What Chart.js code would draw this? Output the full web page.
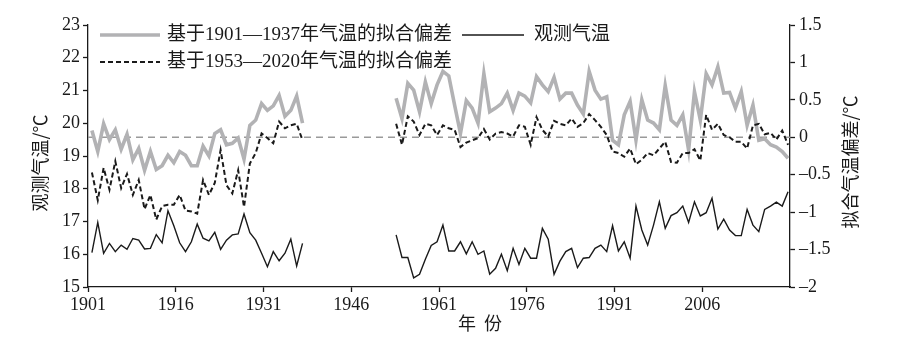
<!DOCTYPE html>
<html>
<head>
<meta charset="utf-8">
<script src="https://cdn.jsdelivr.net/npm/chart.js@4.4.1/dist/chart.umd.min.js"></script>
<style>
html, body { margin: 0; padding: 0; background: #fff; }
</style>
</head>
<body>
<canvas id="chart" width="909" height="339"></canvas>
<script>
// years covered by the two pieces of each series
var early_start = 1901, early_end = 1937;
var late_start = 1953, late_end = 2020;

var x_ticks = [1901, 1916, 1931, 1946, 1961, 1976, 1991, 2006];

var obs_label = "观测气温";
var fit_a_label = "基于1901—1937年气温的拟合偏差";
var fit_b_label = "基于1953—2020年气温的拟合偏差";

// observed temperature (left axis)
var obs_early = [16.05, 16.97, 16.03, 16.33, 16.08, 16.28, 16.15, 16.48, 16.43, 16.16,
	16.18, 16.6, 16.35, 17.33, 16.87, 16.35, 16.08, 16.38, 16.92, 16.49,
	16.41, 16.67, 16.15, 16.43, 16.59, 16.62, 17.23, 16.66, 16.43, 16.03,
	15.62, 16.08, 15.8, 16.03, 16.46, 15.64, 16.33];
var obs_late = [16.59, 15.9, 15.9, 15.28, 15.39, 15.85, 16.27, 16.38, 16.89, 16.1,
	16.1, 16.38, 16.01, 16.38, 16.0, 16.1, 15.39, 15.57, 16.0, 15.5,
	16.18, 15.69, 16.18, 15.88, 15.88, 16.79, 16.46, 15.39, 15.79, 16.08,
	16.18, 15.59, 15.88, 15.9, 16.18, 16.28, 16.08, 16.87, 16.1, 16.38,
	15.88, 17.47, 16.74, 16.28, 16.89, 17.6, 16.79, 17.18, 17.27, 17.47,
	16.97, 17.6, 17.17, 17.27, 17.71, 16.77, 17.07, 16.74, 16.57, 16.57,
	17.37, 16.89, 16.69, 17.37, 17.47, 17.59, 17.47, 17.91];

// fit deviation based on 1901-1937 (right axis, grey)
var fit_a_early = [0.09, -0.19, 0.18, -0.03, 0.10, -0.16, 0.04, -0.30, -0.15, -0.44,
	-0.19, -0.43, -0.38, -0.24, -0.34, -0.19, -0.24, -0.38, -0.38, -0.12,
	-0.25, 0.05, 0.10, -0.10, -0.08, -0.01, -0.29, 0.16, 0.23, 0.45,
	0.36, 0.42, 0.56, 0.28, 0.36, 0.55, 0.19];
var fit_a_late = [0.52, 0.25, 0.72, 0.63, 0.34, 0.74, 0.45, 0.70, 0.88, 0.82,
	0.43, 0.05, 0.49, 0.39, 0.19, 0.85, 0.34, 0.39, 0.45, 0.59,
	0.36, 0.59, 0.55, 0.46, 0.81, 0.70, 0.61, 0.80, 0.51, 0.59,
	0.59, 0.43, 0.31, 0.88, 0.63, 0.51, 0.54, -0.04, -0.10, 0.30,
	0.48, -0.04, 0.50, 0.23, 0.19, 0.10, 0.69, 0.23, 0.16, 0.30,
	-0.17, 0.61, 0.23, 0.85, 0.70, 0.94, 0.59, 0.60, 0.39, 0.61,
	0.16, 0.43, -0.04, -0.02, -0.10, -0.13, -0.19, -0.28];

// fit deviation based on 1953-2020 (right axis, dashed)
var fit_b_early = [-0.47, -0.84, -0.41, -0.70, -0.32, -0.68, -0.49, -0.77, -0.57, -0.96,
	-0.77, -1.10, -0.92, -0.90, -0.90, -0.77, -0.98, -0.99, -1.02, -0.57,
	-0.77, -0.61, -0.17, -0.64, -0.75, -0.44, -0.93, -0.35, -0.21, 0.05,
	-0.01, -0.08, 0.21, 0.12, 0.16, 0.18, -0.04];
var fit_b_late = [0.18, -0.10, 0.28, 0.21, 0.03, 0.18, 0.16, 0.03, 0.16, 0.12,
	0.10, -0.13, -0.07, -0.04, -0.01, 0.11, -0.03, 0.05, 0.07, 0.05,
	0.01, 0.16, 0.14, -0.10, 0.27, 0.10, 0.01, 0.22, 0.18, 0.16,
	0.25, 0.14, 0.19, 0.31, 0.23, 0.14, 0.03, -0.19, -0.21, -0.26,
	-0.15, -0.36, -0.30, -0.21, -0.24, -0.15, -0.06, -0.33, -0.34, -0.21,
	-0.21, -0.16, -0.31, 0.30, 0.10, 0.18, 0.03, 0.00, -0.06, -0.06,
	-0.15, 0.16, 0.18, 0.04, 0.06, -0.03, 0.09, -0.10];

var ref_value = 0;   // grey dashed line on the right axis
var x_shift = 0.67;  // tick marks sit a little left of the yearly points

var serif = '"Liberation Serif", "Noto Sans CJK SC", serif';
var cjk = '"Noto Sans CJK SC", sans-serif';
var ink = '#1a1a1a';

function years(start, end) {
	var out = [];
	for (var y = start; y <= end; y++) out.push(y);
	return out;
}

// join both pieces with a null so the line breaks in the gap
function series(early, late) {
	var pts = [];
	years(early_start, early_end).forEach(function(y, i) { pts.push({x: y, y: early[i]}); });
	pts.push({x: (early_end + late_start) / 2, y: null});
	years(late_start, late_end).forEach(function(y, i) { pts.push({x: y, y: late[i]}); });
	return pts;
}

function dash_minus(v) {
	return v < 0 ? '\u2013' + Math.abs(v) : String(v);
}

var extras = {
	id: 'extras',
	beforeDatasetsDraw: function(chart) {
		var a = chart.chartArea, c = chart.ctx;
		var y = chart.scales.y1.getPixelForValue(ref_value);
		c.save();
		c.strokeStyle = '#9a9a9a';
		c.lineWidth = 1.5;
		c.setLineDash([7, 5]);
		c.beginPath();
		c.moveTo(a.left, y);
		c.lineTo(a.right, y);
		c.stroke();
		c.restore();
	},
	afterDraw: function(chart) {
		var c = chart.ctx, a = chart.chartArea;
		var ds = chart.data.datasets;

		function sample(d, x0, x1, y) {
			c.save();
			c.strokeStyle = d.borderColor;
			c.lineWidth = d.borderWidth;
			c.setLineDash(d.borderDash || []);
			c.beginPath();
			c.moveTo(x0, y);
			c.lineTo(x1, y);
			c.stroke();
			c.restore();
		}
		c.save();
		c.fillStyle = ink;
		c.font = '19px ' + serif;
		c.textBaseline = 'middle';
		c.textAlign = 'left';
		var lx = a.left + 12;
		sample(ds[2], lx, lx + 60, a.top + 10);
		c.fillText(fit_a_label, lx + 67, a.top + 10);
		sample(ds[0], lx + 362, lx + 424, a.top + 10);
		c.fillText(obs_label, lx + 434, a.top + 10);
		sample(ds[1], lx, lx + 60, a.top + 37);
		c.fillText(fit_b_label, lx + 67, a.top + 37);

		// axis titles
		c.font = '18px ' + cjk;
		c.textAlign = 'center';
		c.fillText('年  份', 480, 323);
		c.translate(40, 163);
		c.rotate(-Math.PI / 2);
		c.fillText('观测气温/℃', 0, 0);
		c.restore();

		c.save();
		c.fillStyle = ink;
		c.font = '18px ' + cjk;
		c.textAlign = 'center';
		c.textBaseline = 'middle';
		c.translate(850, 162);
		c.rotate(-Math.PI / 2);
		c.fillText('拟合气温偏差/℃', 0, 0);
		c.restore();
	}
};

var axis_grid = {drawOnChartArea: false, tickLength: 5, tickColor: ink, tickWidth: 1.3};
var axis_border = {color: ink, width: 1.3};
var tick_font = {family: serif, size: 18};

var ctx = document.getElementById('chart').getContext('2d');
var chart = new Chart(ctx, {
	type: 'line',
	data: {
		datasets: [
			{
				label: obs_label,
				data: series(obs_early, obs_late),
				yAxisID: 'y',
				borderColor: ink,
				borderWidth: 1.4,
				order: 1
			},
			{
				label: fit_b_label,
				data: series(fit_b_early, fit_b_late),
				yAxisID: 'y1',
				borderColor: ink,
				borderWidth: 2,
				borderDash: [5, 3],
				order: 2
			},
			{
				label: fit_a_label,
				data: series(fit_a_early, fit_a_late),
				yAxisID: 'y1',
				borderColor: '#b2b2b4',
				borderWidth: 3.6,
				order: 3
			}
		]
	},
	options: {
		responsive: false,
		animation: false,
		layout: {padding: {top: 25, left: 0, right: 0, bottom: 0}},
		elements: {point: {radius: 0}, line: {tension: 0, fill: false}},
		plugins: {legend: {display: false}, tooltip: {enabled: false}},
		scales: {
			x: {
				type: 'linear',
				min: early_start - x_shift,
				max: late_end + 1 - x_shift,
				afterBuildTicks: function(s) {
					s.ticks = x_ticks.map(function(v) { return {value: v - x_shift}; });
				},
				afterFit: function(s) { s.height = 52; },
				ticks: {
					color: ink, font: tick_font, padding: 2, maxRotation: 0,
					callback: function(v) { return String(Math.round(v + x_shift)); }
				},
				grid: axis_grid,
				border: axis_border
			},
			y: {
				position: 'left',
				min: 15,
				max: 23,
				afterFit: function(s) { s.width = 88; },
				ticks: {stepSize: 1, color: ink, font: tick_font, padding: 3},
				grid: axis_grid,
				border: axis_border
			},
			y1: {
				position: 'right',
				min: -2,
				max: 1.5,
				afterFit: function(s) { s.width = 119; },
				ticks: {stepSize: 0.5, color: ink, font: tick_font, padding: 4, callback: dash_minus},
				grid: axis_grid,
				border: axis_border
			}
		}
	},
	plugins: [extras]
});
</script>
</body>
</html>
